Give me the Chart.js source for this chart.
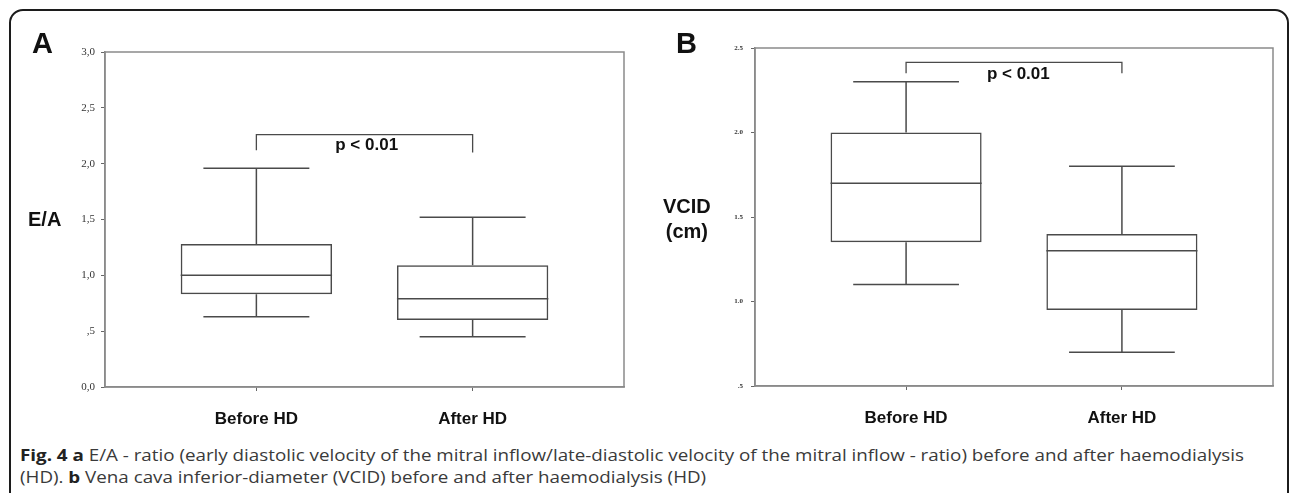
<!DOCTYPE html>
<html>
<head>
<meta charset="utf-8">
<script src="https://cdn.jsdelivr.net/npm/chart.js@4/dist/chart.umd.min.js"></script>
<style>
  html, body { margin:0; padding:0; background:#fff; width:1292px; height:493px; overflow:hidden; position:relative; }
  .frame { position:absolute; left:9px; top:9px; width:1280px; height:600px; border:2px solid #1c1c1c; border-radius:14px 14px 0 0; box-sizing:border-box; }
  canvas { position:absolute; top:0; }
  .lbl { position:absolute; font-family:"Liberation Sans", Arial, sans-serif; font-weight:bold; color:#111; white-space:nowrap; line-height:1; }
  .cap { position:absolute; left:20px; font-family:"Open Sans", sans-serif; font-size:16px; color:#3a3a3a; white-space:nowrap; transform-origin:0 50%; line-height:22px; }
  .cap b { color:#222; }
</style>
</head>
<body>
<div class="frame"></div>
<canvas id="chartA" width="646" height="440" style="left:0px"></canvas>
<canvas id="chartB" width="646" height="440" style="left:646px"></canvas>

<div class="lbl" style="left:32px; top:29px; font-size:29px;">A</div>
<div class="lbl" style="left:676px; top:29px; font-size:29px;">B</div>
<div class="lbl" style="left:28px; top:209px; font-size:20px;">E/A</div>
<div class="lbl" style="left:663px; top:194px; font-size:20px; text-align:center; line-height:25px;">VCID<br>(cm)</div>

<div class="cap" id="cap1" style="top:444px;"><b>Fig. 4 a</b> E/A - ratio (early diastolic velocity of the mitral inflow/late-diastolic velocity of the mitral inflow - ratio) before and after haemodialysis</div>
<div class="cap" id="cap2" style="top:466px;">(HD). <b>b</b> Vena cava inferior-diameter (VCID) before and after haemodialysis (HD)</div>

<script>
// ---------- DATA ----------
const categories = ["Before HD", "After HD"];

// Panel A: E/A ratio
const eaMin    = [0.63, 0.45];
const eaQ1     = [0.83, 0.60];
const eaMedian = [1.00, 0.79];
const eaQ3     = [1.28, 1.09];
const eaMax    = [1.96, 1.52];
const eaTickValues = [0, 0.5, 1.0, 1.5, 2.0, 2.5, 3.0];
const eaTickLabels = ["0,0", ",5", "1,0", "1,5", "2,0", "2,5", "3,0"];
const eaBracket = { low: [2.12, 2.10], top: 2.26, text: "p < 0.01", textY: 2.16, textX: 0.51 };

// Panel B: VCID (cm)
const vcMin    = [1.10, 0.70];
const vcQ1     = [1.35, 0.95];
const vcMedian = [1.70, 1.30];
const vcQ3     = [2.00, 1.40];
const vcMax    = [2.30, 1.80];
const vcTickValues = [0.5, 1.0, 1.5, 2.0, 2.5];
const vcTickLabels = [".5", "1.0", "1.5", "2.0", "2.5"];
const vcBracket = { low: [2.35, 2.35], top: 2.415, text: "p < 0.01", textY: 2.345, textX: 0.52 };

// ---------- BUILD ----------
const LINE = "#4a4a4a";
const BOX_HALF = 0.35, CAP_HALF = 0.245;

function boxDatasets(mins, q1, med, q3, maxs, bracket) {
  const idx = categories.map((_, i) => i);
  const whisk = [];
  idx.forEach(i => {
    whisk.push({x:i, y:q3[i]}, {x:i, y:maxs[i]}, {x:i, y:null});
    whisk.push({x:i-CAP_HALF, y:maxs[i]}, {x:i+CAP_HALF, y:maxs[i]}, {x:i, y:null});
    whisk.push({x:i, y:q1[i]}, {x:i, y:mins[i]}, {x:i, y:null});
    whisk.push({x:i-CAP_HALF, y:mins[i]}, {x:i+CAP_HALF, y:mins[i]}, {x:i, y:null});
    whisk.push({x:i-BOX_HALF, y:med[i]}, {x:i+BOX_HALF, y:med[i]}, {x:i, y:null});
  });
  const br = [{x:0, y:bracket.low[0]}, {x:0, y:bracket.top}, {x:1, y:bracket.top}, {x:1, y:bracket.low[1]}];
  return [
    { type:'bar', data: idx.map(i => ({x:i, y:[q1[i], q3[i]]})),
      backgroundColor:'rgba(255,255,255,0)', borderColor:LINE, borderWidth:1.5, borderSkipped:false,
      barPercentage:0.70, categoryPercentage:1.0, order:2 },
    { type:'line', data: whisk, borderColor:LINE, borderWidth:1.5, pointRadius:0, spanGaps:false, fill:false, order:1 },
    { type:'line', data: br, borderColor:LINE, borderWidth:1.3, pointRadius:0, fill:false, order:1 }
  ];
}

const framePlugin = {
  id:'frame',
  afterDraw(chart, args, opts) {
    const {ctx, chartArea:a, scales} = chart;
    ctx.save();
    ctx.strokeStyle = "#8a8a8a"; ctx.lineWidth = 1.5;
    ctx.strokeRect(a.left, a.top, a.right - a.left, a.bottom - a.top);
    const b = opts.bracket;
    ctx.fillStyle = "#111";
    ctx.font = "bold 17px 'Liberation Sans', Arial, sans-serif";
    ctx.textAlign = "center"; ctx.textBaseline = "middle";
    ctx.fillText(b.text, scales.x.getPixelForValue(b.textX), scales.y.getPixelForValue(b.textY));
    ctx.restore();
  }
};

function makeChart(id, ds, yMin, yMax, tickVals, tickLbls, yFont, yTickPad, pad, bracket) {
  return new Chart(document.getElementById(id), {
    type:'bar',
    data:{ datasets: ds },
    plugins:[framePlugin],
    options:{
      responsive:false, animation:false, devicePixelRatio:1,
      layout:{ padding: pad },
      plugins:{ legend:{display:false}, tooltip:{enabled:false}, frame:{ bracket } },
      scales:{
        x:{ type:'linear', min:-0.7, max:1.7, offset:false,
            afterBuildTicks: s => { s.ticks = categories.map((_, i) => ({value:i})); },
            afterFit: s => { s.height = 40; },
            ticks:{ callback: v => categories[v], font:{family:"'Liberation Sans', Arial, sans-serif", size:17, weight:'bold'}, color:'#111', padding:18, maxRotation:0, autoSkip:false },
            grid:{ drawOnChartArea:false, drawTicks:true, tickLength:4, color:'#666', offset:false },
            border:{ display:true, color:'#8a8a8a', width:1.5 } },
        y:{ type:'linear', min:yMin, max:yMax,
            afterBuildTicks: s => { s.ticks = tickVals.map(v => ({value:v})); },
            afterFit: s => { s.width = 40; },
            ticks:{ callback: v => tickLbls[tickVals.indexOf(v)], font:yFont, color:'#333', padding:yTickPad, autoSkip:false },
            grid:{ drawOnChartArea:false, drawTicks:true, tickLength:4, color:'#666', offset:false },
            border:{ display:true, color:'#8a8a8a', width:1.5 } }
      }
    }
  });
}

makeChart('chartA', boxDatasets(eaMin, eaQ1, eaMedian, eaQ3, eaMax, eaBracket), 0, 3.0,
  eaTickValues, eaTickLabels, {family:"'Liberation Serif', 'Times New Roman', serif", size:11}, 6,
  {left:65, right:22, top:52, bottom:13}, eaBracket);

makeChart('chartB', boxDatasets(vcMin, vcQ1, vcMedian, vcQ3, vcMax, vcBracket), 0.5, 2.5,
  vcTickValues, vcTickLabels, {family:"'Liberation Serif', 'Times New Roman', serif", size:7, weight:'bold'}, 8,
  {left:69, right:19, top:48, bottom:14}, vcBracket);

// Caption fit
const c1 = document.getElementById('cap1'), c2 = document.getElementById('cap2');
const sc = 1224 / c1.getBoundingClientRect().width;
c1.style.transform = `scaleX(${sc})`;
c2.style.transform = `scaleX(${sc})`;
</script>
</body>
</html>
